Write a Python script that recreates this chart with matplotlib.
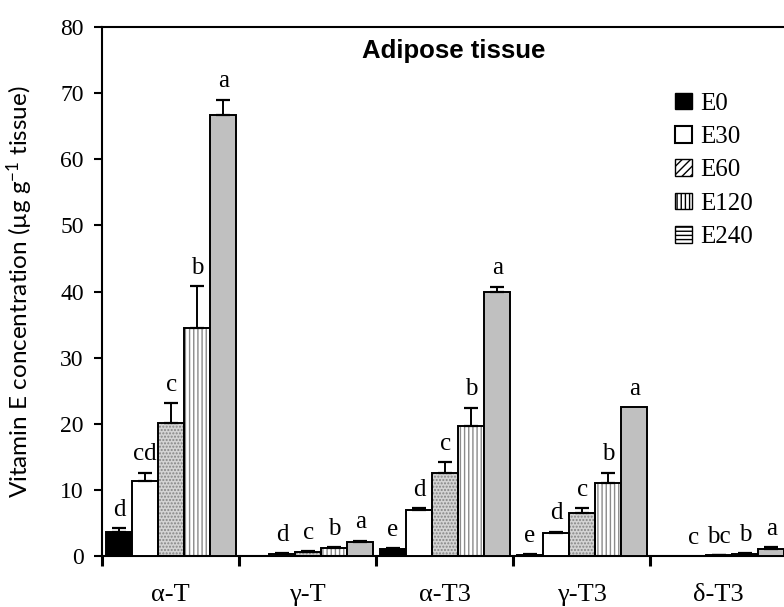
import matplotlib
matplotlib.use("Agg")
import matplotlib.pyplot as plt
from matplotlib.patches import Patch
import numpy as np

categories = ["\u03b1-T", "\u03b3-T", "\u03b1-T3", "\u03b3-T3", "\u03b4-T3"]
series = ["E0", "E30", "E60", "E120", "E240"]

values = {
    "E0":   [3.6, 0.0, 1.0, 0.2, 0.0],
    "E30":  [11.3, 0.3, 7.0, 3.5, 0.0],
    "E60":  [20.1, 0.6, 12.6, 6.5, 0.1],
    "E120": [34.5, 1.2, 19.6, 11.0, 0.3],
    "E240": [66.7, 2.1, 39.9, 22.5, 1.1],
}
errors = {
    "E0":   [0.6, 0.0, 0.2, 0.1, 0.0],
    "E30":  [1.3, 0.1, 0.2, 0.15, 0.0],
    "E60":  [3.0, 0.15, 1.6, 0.7, 0.05],
    "E120": [6.3, 0.1, 2.8, 1.6, 0.1],
    "E240": [2.3, 0.2, 0.8, 0.0, 0.25],
}
letters = {
    "E0":   ["d", "", "e", "e", ""],
    "E30":  ["cd", "d", "d", "d", "c"],
    "E60":  ["c", "c", "c", "c", "bc"],
    "E120": ["b", "b", "b", "b", "b"],
    "E240": ["a", "a", "a", "a", "a"],
}

serif = ["Liberation Serif", "DejaVu Serif"]
plt.rcParams["mathtext.fontset"] = "custom"
plt.rcParams["mathtext.rm"] = "Lato"
plt.rcParams["mathtext.default"] = "rm"

fig = plt.figure(figsize=(7.84, 6.07), dpi=100)
ax = fig.add_axes([0.130, 0.084, 0.870, 0.8715])

styles = {
    "E0":   dict(face="black", hatch=None, hcol=None),
    "E30":  dict(face="white", hatch=None, hcol=None),
    "E60":  dict(face="#d4d4d4", hatch=".....", hcol="#858585"),
    "E120": dict(face="white", hatch="||||", hcol="#8a8a8a"),
    "E240": dict(face="#c0c0c0", hatch=None, hcol=None),
}

w = 0.19
x0 = np.arange(len(categories)) + 0.03
for k, s in enumerate(series):
    xs = x0 + w * k + w / 2
    v = np.array(values[s])
    e = np.array(errors[s])
    st = styles[s]
    if st["hatch"]:
        ax.bar(xs, v, width=w, color=st["face"], hatch=st["hatch"],
               edgecolor=st["hcol"], linewidth=0, zorder=2)
        ax.bar(xs, v, width=w, fill=False, edgecolor="black", linewidth=1.4, zorder=3)
    else:
        ax.bar(xs, v, width=w, color=st["face"], edgecolor="black", linewidth=1.4, zorder=3)
    m = e > 0
    ax.errorbar(xs[m], v[m], yerr=[np.zeros(m.sum()), e[m]], fmt="none",
                ecolor="black", elinewidth=1.4, capsize=5, capthick=1.6, zorder=4)
    for xi, vi, ei, lab in zip(xs, v, e, letters[s]):
        if lab:
            ax.annotate(lab, (xi, vi + ei), xytext=(0, 9), textcoords="offset points",
                        ha="center", va="baseline", fontsize=18, family=serif)

ax.set_xlim(0, 4.978)
ax.set_ylim(0, 80)
ax.set_yticks(range(0, 81, 10))
ax.set_yticklabels([str(t) for t in range(0, 81, 10)], family=serif, fontsize=17)
ax.set_xticks(range(0, 5))
ax.set_xticklabels([])
for i, c in enumerate(categories):
    ax.text(i + 0.5, -4.2, c, ha="center", va="top", fontsize=19, family=serif,
            transform=ax.transData)

ax.tick_params(axis="y", direction="out", length=6, width=1.5, pad=7)
ax.tick_params(axis="x", direction="out", length=7, width=2.2)
for sp in ["left", "bottom", "top"]:
    ax.spines[sp].set_linewidth(1.5)
ax.spines["right"].set_visible(False)

ax.set_ylabel("Vitamin E concentration (\u00b5g g$^{-1}$ tissue)", family="Lato",
              fontsize=17.5)
ax.yaxis.set_label_coords(-0.098, 0.5)

ax.text(0.515, 0.955, "Adipose tissue", transform=ax.transAxes, ha="center",
        va="center", fontsize=18.5, fontweight="bold", family="Liberation Sans")

handles = [
    Patch(facecolor="black", edgecolor="black"),
    Patch(facecolor="white", edgecolor="black", linewidth=1.5),
    Patch(facecolor="white", edgecolor="black", hatch="////"),
    Patch(facecolor="white", edgecolor="black", hatch="||||"),
    Patch(facecolor="white", edgecolor="black", hatch="----"),
]
leg = ax.legend(handles, series, loc="upper left", bbox_to_anchor=(0.826, 0.895),
                frameon=False, handlelength=0.65, handleheight=0.65,
                handletextpad=0.35, labelspacing=0.45, borderaxespad=0,
                prop={"family": serif, "size": 18})

fig.savefig("out.png", dpi=100)
